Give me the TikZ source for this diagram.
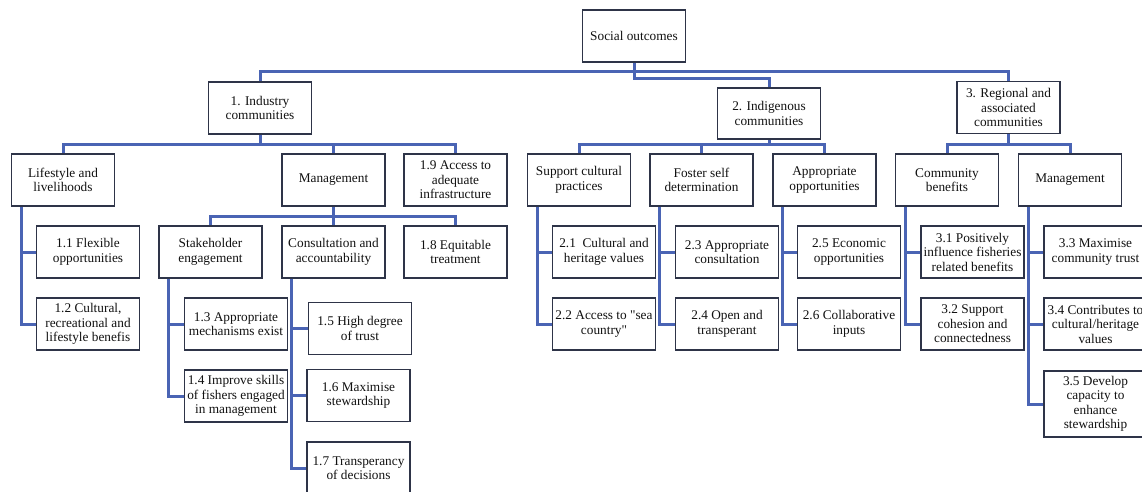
\documentclass[tikz,border=0pt]{standalone}
\usepackage{fontspec}
\setmainfont{Liberation Serif}
\usetikzlibrary{calc}
\definecolor{linec}{HTML}{4A64B4}
\definecolor{boxc}{HTML}{2E3448}
\definecolor{txtc}{HTML}{111111}
\tikzset{
  bx/.style={draw=boxc, line width=1.5pt, fill=white, minimum width=103, minimum height=52,
    inner sep=0pt, align=center, text=txtc, font=\fontsize{13.3}{14.5}\selectfont},
  ln/.style={draw=linec, line width=3pt}
}
\begin{document}
\begin{tikzpicture}[x=1pt,y=-1pt]
\useasboundingbox (0,0) rectangle (1142,491);
% level 0/1
\node[bx] (so) at (634,36) {Social outcomes};
\node[bx] (ind) at (260,108) {1. Industry\\communities};
\node[bx, minimum height=51] (indg) at (769,113.5) {2. Indigenous\\communities};
\node[bx] (reg) at (1008.5,107.5) {3. Regional and\\associated\\communities};
% level 2
\node[bx] (lif) at (63,180) {Lifestyle and\\livelihoods};
\node[bx] (m1) at (333.5,180) {Management};
\node[bx] (a19) at (455.5,180) {1.9 Access to\\adequate\\infrastructure};
\node[bx] (scp) at (579,180) {Support cultural\\practices};
\node[bx] (fsd) at (701.5,180) {Foster self\\determination};
\node[bx] (apo) at (824.5,180) {Appropriate\\opportunities};
\node[bx] (cb) at (947,180) {Community\\benefits};
\node[bx] (m3) at (1070,180) {Management};
% level 3
\node[bx] (n11) at (88,252) {1.1 Flexible\\opportunities};
\node[bx] (n12) at (88,324) {1.2 Cultural,\\recreational and\\lifestyle benefis};
\node[bx] (se) at (210.5,252) {Stakeholder\\engagement};
\node[bx] (ca) at (333.5,252) {Consultation and\\accountability};
\node[bx] (n18) at (455.5,252) {1.8 Equitable\\treatment};
\node[bx] (n13) at (236,324) {1.3 Appropriate\\mechanisms exist};
\node[bx] (n14) at (236,396) {1.4 Improve skills\\of fishers engaged\\in management};
\node[bx] (n15) at (360,328.5) {1.5 High degree\\of trust};
\node[bx] (n16) at (358.5,395.5) {1.6 Maximise\\stewardship};
\node[bx] (n17) at (358.5,468) {1.7 Transperancy\\of decisions};
\node[bx] (n21) at (604,252) {2.1\ \ Cultural and\\heritage values};
\node[bx] (n22) at (604,324) {2.2 Access to \textquotedbl sea\\country\textquotedbl};
\node[bx] (n23) at (727,252) {2.3 Appropriate\\consultation};
\node[bx] (n24) at (727,324) {2.4 Open and\\transperant};
\node[bx] (n25) at (849,252) {2.5 Economic\\opportunities};
\node[bx] (n26) at (849,324) {2.6 Collaborative\\inputs};
\node[bx] (n31) at (972.5,252) {3.1 Positively\\influence fisheries\\related benefits};
\node[bx] (n32) at (972.5,324) {3.2 Support\\cohesion and\\connectedness};
\node[bx] (n33) at (1095.5,252) {3.3 Maximise\\community trust};
\node[bx] (n34) at (1095.5,324) {3.4 Contributes to\\cultural/heritage\\values};
\node[bx, minimum height=66] (n35) at (1095.5,404) {3.5 Develop\\capacity to\\enhance\\stewardship};
% top connectors
\draw[ln] (ind.north) |- (reg.north |- 0,71) -- (reg.north);
\draw[ln] (so.south) |- (indg.north |- 0,78) -- (indg.north);
% industry
\draw[ln] (ind.south) |- (lif.north |- 0,144) -- (lif.north);
\draw[ln] (ind.south |- 0,144) -| (a19.north);
\draw[ln] (m1.north |- 0,144) -- (m1.north);
% management 1
\draw[ln] (m1.south) |- (se.north |- 0,216) -- (se.north);
\draw[ln] (m1.south |- 0,216) -| (n18.north);
\draw[ln] (ca.north |- 0,216) -- (ca.north);
% indigenous
\draw[ln] (indg.south) |- (scp.north |- 0,144) -- (scp.north);
\draw[ln] (indg.south |- 0,144) -| (apo.north);
\draw[ln] (fsd.north |- 0,144) -- (fsd.north);
% regional
\draw[ln] (reg.south) |- (cb.north |- 0,144) -- (cb.north);
\draw[ln] (reg.south |- 0,144) -| (m3.north);
% vertical branches
\coordinate (lifv) at ($(lif.south west)+(10.5,0)$);
\draw[ln] (lifv) |- (n12.west);
\draw[ln] (lifv |- n11.west) -- (n11.west);
\coordinate (sev) at ($(se.south west)+(10.5,0)$);
\draw[ln] (sev) |- (n14.west);
\draw[ln] (sev |- n13.west) -- (n13.west);
\coordinate (cav) at ($(ca.south west)+(10.5,0)$);
\draw[ln] (cav) |- (n17.west);
\draw[ln] (cav |- n15.west) -- (n15.west);
\draw[ln] (cav |- n16.west) -- (n16.west);
\coordinate (scpv) at ($(scp.south west)+(10.5,0)$);
\draw[ln] (scpv) |- (n22.west);
\draw[ln] (scpv |- n21.west) -- (n21.west);
\coordinate (fsdv) at ($(fsd.south west)+(10.5,0)$);
\draw[ln] (fsdv) |- (n24.west);
\draw[ln] (fsdv |- n23.west) -- (n23.west);
\coordinate (apov) at ($(apo.south west)+(10.5,0)$);
\draw[ln] (apov) |- (n26.west);
\draw[ln] (apov |- n25.west) -- (n25.west);
\coordinate (cbv) at ($(cb.south west)+(10.5,0)$);
\draw[ln] (cbv) |- (n32.west);
\draw[ln] (cbv |- n31.west) -- (n31.west);
\coordinate (m3v) at ($(m3.south west)+(10.5,0)$);
\draw[ln] (m3v) |- (n35.west);
\draw[ln] (m3v |- n33.west) -- (n33.west);
\draw[ln] (m3v |- n34.west) -- (n34.west);
\end{tikzpicture}
\end{document}
